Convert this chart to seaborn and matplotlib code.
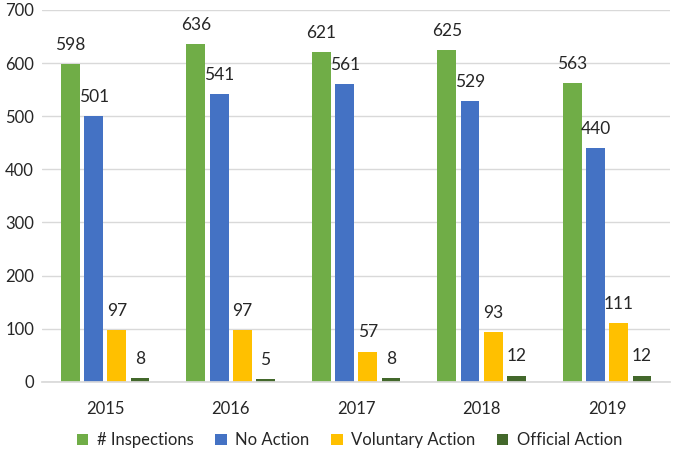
import pandas as pd
import numpy as np
import matplotlib
matplotlib.use('Agg')
import matplotlib.pyplot as plt
import seaborn as sns

years = ['2015', '2016', '2017', '2018', '2019']
series = ['# Inspections', 'No Action', 'Voluntary Action', 'Official Action']
inspections = [598, 636, 621, 625, 563]
no_action = [501, 541, 561, 529, 440]
voluntary = [97, 97, 57, 93, 111]
official = [8, 5, 8, 12, 12]

colors = ['#70AD47', '#4472C4', '#FFC000', '#43682B']

df = pd.DataFrame({
    'Year': years * 4,
    'Series': [s for s in series for _ in years],
    'Count': inspections + no_action + voluntary + official,
})

sns.set_theme(style='white')
plt.rcParams['font.family'] = ['Lato', 'DejaVu Sans']

fig, ax = plt.subplots(figsize=(6.85, 4.53), dpi=100)
sns.barplot(data=df, x='Year', y='Count', hue='Series', hue_order=series,
            palette=colors, width=0.74, gap=0.19, ax=ax, saturation=1,
            edgecolor='none')

for cont in ax.containers:
    ax.bar_label(cont, padding=8, fontsize=12.5, color='#262626')

ax.set_ylim(0, 700)
ax.set_yticks(range(0, 701, 100))
ax.set_xlim(-0.5, 4.5)
ax.yaxis.grid(True, color='#D9D9D9', linewidth=1)
ax.set_axisbelow(True)
for s in ['left', 'right', 'top']:
    ax.spines[s].set_visible(False)
ax.spines['bottom'].set_color('#D9D9D9')
ax.tick_params(axis='x', length=0, labelsize=12, colors='#262626', pad=14)
ax.tick_params(axis='y', length=0, labelsize=12, colors='#262626', pad=6)
ax.set_xlabel('')
ax.set_ylabel('')

handles, labels = ax.get_legend_handles_labels()
ax.legend(handles, labels, loc='center', bbox_to_anchor=(0.51, 0.028),
          bbox_transform=fig.transFigure,
          ncol=4, frameon=False, fontsize=12, handlelength=0.7,
          handleheight=0.7, handletextpad=0.5, columnspacing=1.3)

plt.subplots_adjust(left=0.062, right=0.978, top=0.978, bottom=0.157)
plt.savefig('out.png', dpi=100)
